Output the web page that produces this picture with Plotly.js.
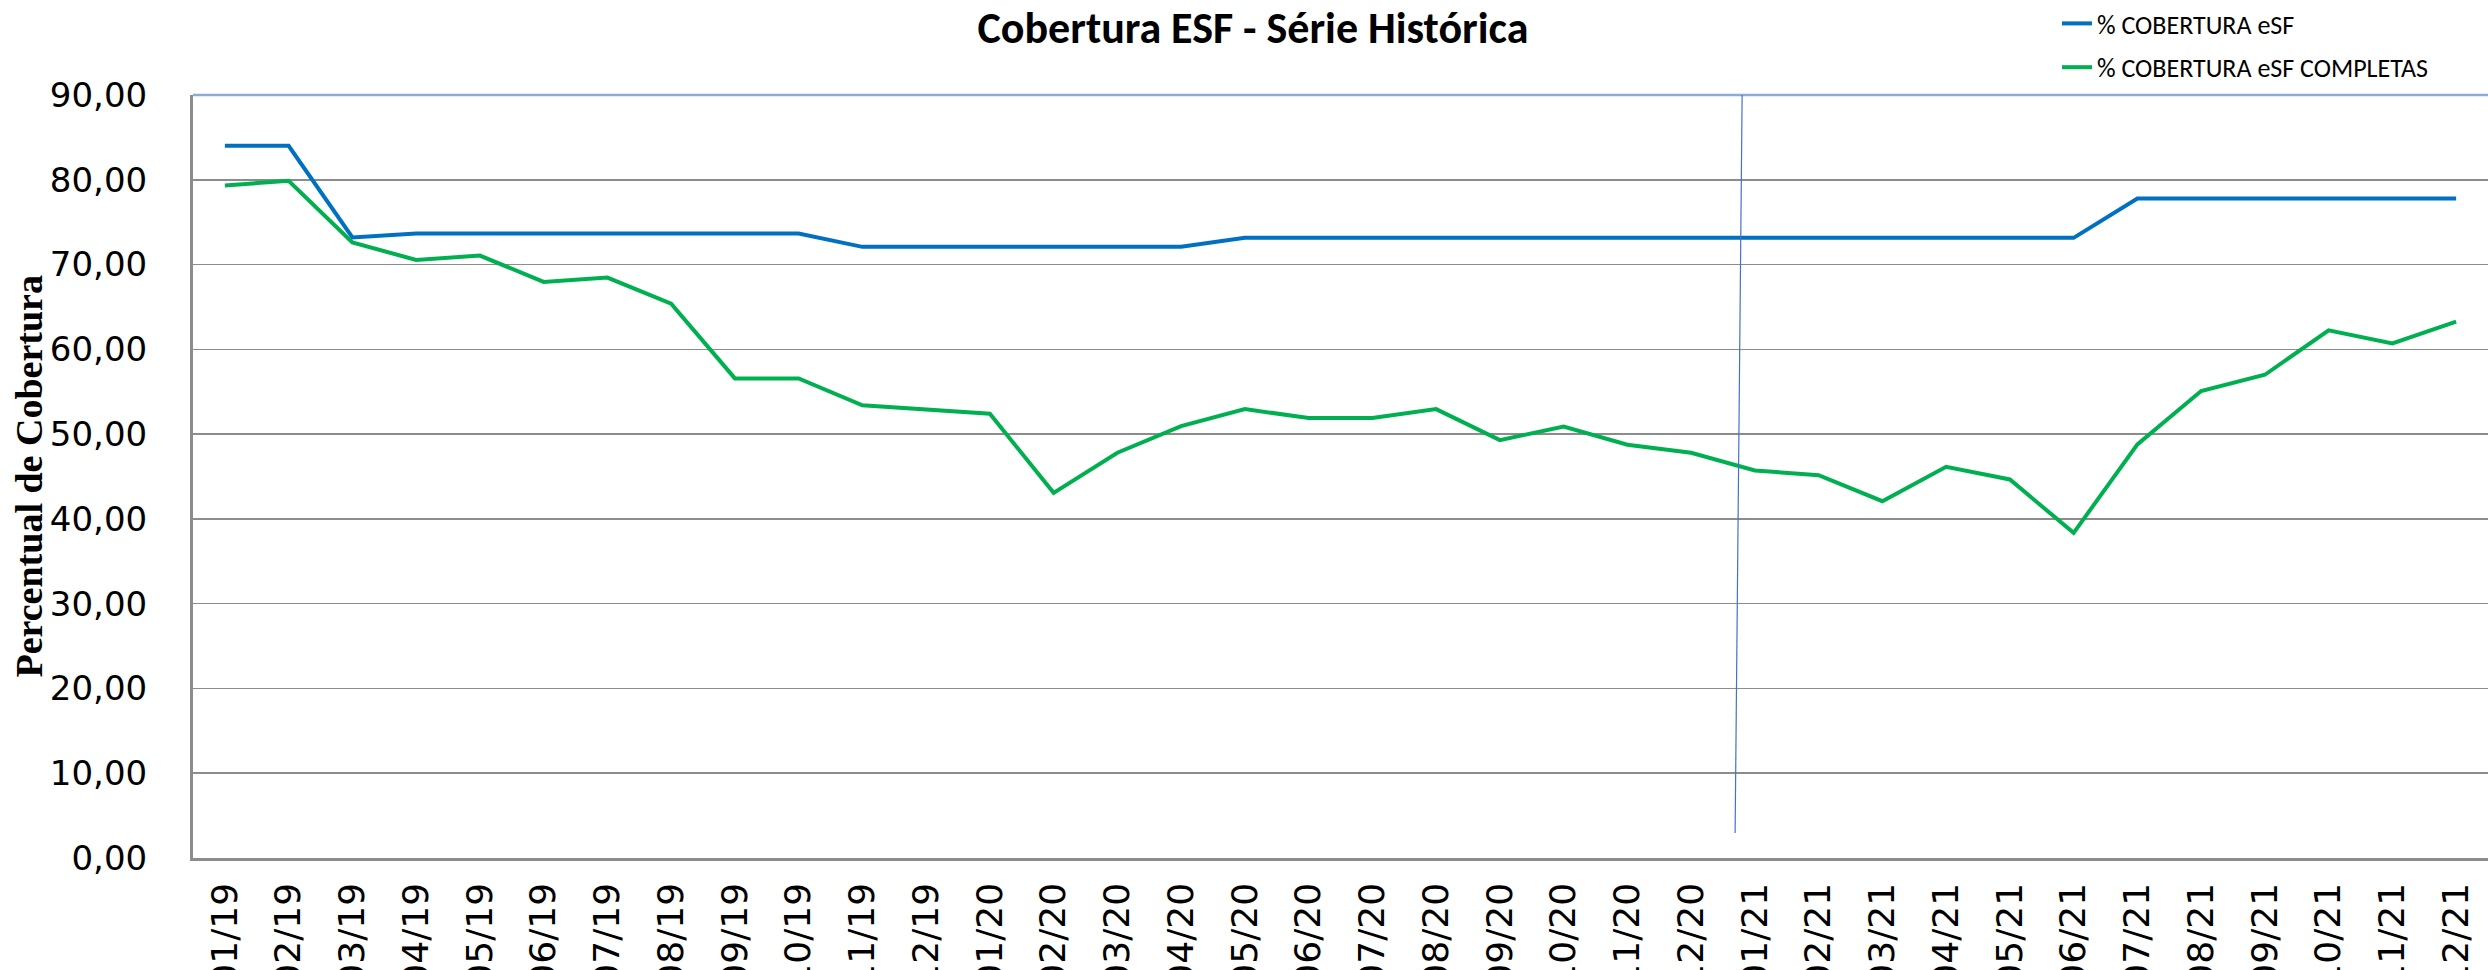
<!DOCTYPE html>
<html>
<head>
<meta charset="utf-8">
<script src="https://cdn.plot.ly/plotly-3.0.1.min.js"></script>
<style>
  html, body { margin: 0; padding: 0; background: #ffffff; overflow: hidden; }
  #chart { width: 2488px; height: 970px; }
</style>
</head>
<body>
<div id="chart"></div>
<script>
// ---- data ----
const months = [
  "01/19","02/19","03/19","04/19","05/19","06/19","07/19","08/19","09/19","10/19","11/19","12/19",
  "01/20","02/20","03/20","04/20","05/20","06/20","07/20","08/20","09/20","10/20","11/20","12/20",
  "01/21","02/21","03/21","04/21","05/21","06/21","07/21","08/21","09/21","10/21","11/21","12/21"
];
const coberturaESF = [
  84.00, 84.00, 73.19, 73.66, 73.66, 73.66, 73.66, 73.66, 73.66, 73.66, 72.09, 72.09,
  72.09, 72.09, 72.09, 72.09, 73.15, 73.15, 73.15, 73.15, 73.15, 73.15, 73.15, 73.15,
  73.15, 73.15, 73.15, 73.15, 73.15, 73.15, 77.80, 77.80, 77.80, 77.80, 77.80, 77.80
];
const coberturaESFCompletas = [
  79.33, 79.88, 72.60, 70.55, 71.06, 67.95, 68.46, 65.39, 56.57, 56.57, 53.39, 52.90,
  52.40, 43.07, 47.80, 50.94, 52.95, 51.89, 51.89, 52.95, 49.29, 50.90, 48.74, 47.80,
  45.71, 45.16, 42.09, 46.14, 44.65, 38.35, 48.78, 55.08, 57.00, 62.24, 60.70, 63.27
];
const seriesNames = ["% COBERTURA eSF", "% COBERTURA eSF COMPLETAS"];
const chartTitle = "Cobertura ESF - Série Histórica";
const yTitle = "Percentual de Cobertura";
// divider line drawn on the chart (category index / value)
const dividerTop = {x: 23.80, y: 90};
const dividerBottom = {x: 23.69, y: 2.95};

// ---- chart ----
const traces = [
  {
    x: months, y: coberturaESF, type: "scatter", mode: "lines",
    name: seriesNames[0], legendgroup: "a",
    line: {color: "#0070c0", width: 4}
  },
  {
    x: months, y: coberturaESFCompletas, type: "scatter", mode: "lines",
    name: seriesNames[1], legendgroup: "b",
    line: {color: "#00b050", width: 4}
  }
];

const layout = {
  width: 2488, height: 970,
  margin: {l: 193, r: 0, t: 95, b: 112, pad: 0, autoexpand: false},
  paper_bgcolor: "#ffffff", plot_bgcolor: "#ffffff",
  separators: ",.",
  showlegend: true,
  title: {
    text: "<b>" + chartTitle + "</b>",
    font: {family: "Carlito, Lato, 'Open Sans', sans-serif", size: 44, color: "#000000"},
    xref: "container", yref: "container",
    x: 1253 / 2488, xanchor: "center",
    y: 1 - 28 / 970, yanchor: "middle"
  },
  legend: {
    xref: "container", yref: "container",
    x: 2057 / 2488, xanchor: "left",
    y: 1.013, yanchor: "top",
    bgcolor: "rgba(0,0,0,0)",
    font: {family: "Carlito, Lato, 'Open Sans', sans-serif", size: 26, color: "#000000"},
    traceorder: "grouped",
    tracegroupgap: 7
  },
  xaxis: {
    type: "category",
    range: [-0.5, months.length - 0.5],
    showgrid: false,
    showline: true, linecolor: "#8c8c8c", linewidth: 2.5,
    ticks: "", tickangle: -90,
    tickfont: {family: "'DejaVu Sans', sans-serif", size: 36, color: "#000000"},
    ticklabelstandoff: 8,
    automargin: false, fixedrange: true
  },
  yaxis: {
    range: [0, 90], dtick: 10, tick0: 0,
    tickformat: ".2f",
    showgrid: true, gridcolor: "#8c8c8c", gridwidth: 1.5,
    zeroline: false,
    showline: true, linecolor: "#8c8c8c", linewidth: 3,
    ticks: "",
    tickfont: {family: "'DejaVu Sans', sans-serif", size: 34, color: "#000000"},
    ticklabelstandoff: 36,
    automargin: false, fixedrange: true
  },
  shapes: [
    {
      type: "line", xref: "paper", yref: "paper",
      x0: 0, x1: 1, y0: 1, y1: 1,
      line: {color: "#8eaadb", width: 2.5}
    },
    {
      type: "line", xref: "x", yref: "y",
      x0: dividerTop.x, y0: dividerTop.y, x1: dividerBottom.x, y1: dividerBottom.y,
      line: {color: "#4472c4", width: 1.2}
    }
  ],
  annotations: [
    {
      text: "<b>" + yTitle + "</b>",
      textangle: -90,
      xref: "paper", yref: "paper",
      x: (28 - 193) / 2295, xanchor: "center",
      y: 0.5, yanchor: "middle",
      showarrow: false,
      font: {family: "'Liberation Serif', 'Times New Roman', serif", size: 38, color: "#000000"}
    }
  ]
};

Plotly.newPlot("chart", traces, layout, {displayModeBar: false, staticPlot: true});
</script>
</body>
</html>
